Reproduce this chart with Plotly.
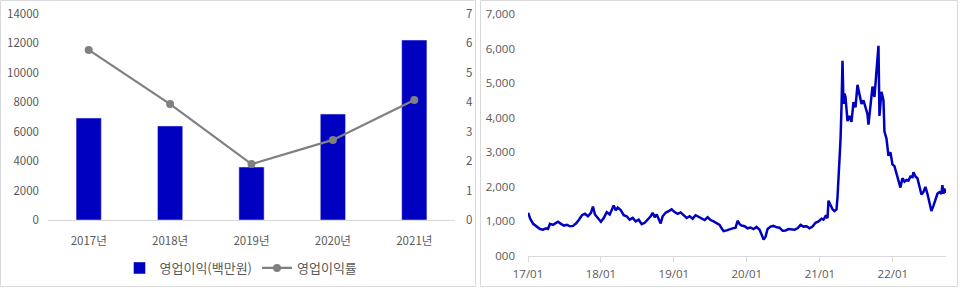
import plotly.graph_objects as go

# ---- Left panel data ----
years = ["2017년", "2018년", "2019년", "2020년", "2021년"]
op_profit = [6930, 6390, 3600, 7200, 12230]        # 영업이익(백만원)
op_margin = [5.78, 3.94, 1.90, 2.72, 4.08]         # 영업이익률

# ---- Right panel data (stock price) ----
price_dates = [
    "2017-01-02", "2017-01-12", "2017-01-27", "2017-02-10", "2017-03-02", "2017-03-17", "2017-04-01",
    "2017-04-11", "2017-04-21", "2017-05-06", "2017-05-21", "2017-05-31", "2017-06-15", "2017-06-30",
    "2017-07-15", "2017-07-30", "2017-08-14", "2017-08-29", "2017-09-13", "2017-09-28", "2017-10-13",
    "2017-10-28", "2017-11-12", "2017-11-22", "2017-12-02", "2017-12-17", "2018-01-01", "2018-01-15",
    "2018-01-30", "2018-02-14", "2018-02-24", "2018-03-06", "2018-03-16", "2018-03-26", "2018-04-10",
    "2018-04-25", "2018-05-10", "2018-05-25", "2018-06-09", "2018-06-24", "2018-07-09", "2018-07-24",
    "2018-08-08", "2018-08-23", "2018-09-07", "2018-09-17", "2018-09-27", "2018-10-07", "2018-10-17",
    "2018-10-27", "2018-11-06", "2018-11-21", "2018-12-06", "2018-12-21", "2019-01-05", "2019-01-20",
    "2019-02-04", "2019-02-19", "2019-03-06", "2019-03-21", "2019-04-05", "2019-04-20", "2019-05-05",
    "2019-05-20", "2019-06-04", "2019-06-19", "2019-07-04", "2019-07-19", "2019-08-03", "2019-08-18",
    "2019-08-28", "2019-09-07", "2019-09-22", "2019-10-07", "2019-10-22", "2019-11-06", "2019-11-16",
    "2019-11-26", "2019-12-06", "2019-12-21", "2020-01-05", "2020-01-20", "2020-02-04", "2020-02-19",
    "2020-03-05", "2020-03-15", "2020-03-25", "2020-04-04", "2020-04-14", "2020-04-29", "2020-05-14",
    "2020-05-29", "2020-06-13", "2020-06-28", "2020-07-13", "2020-07-28", "2020-08-12", "2020-08-27",
    "2020-09-11", "2020-09-26", "2020-10-11", "2020-10-26", "2020-11-10", "2020-11-25", "2020-12-10",
    "2020-12-25", "2021-01-09", "2021-01-19", "2021-01-29", "2021-02-08", "2021-02-13", "2021-02-23",
    "2021-03-05", "2021-03-15", "2021-03-25", "2021-03-30", "2021-04-04", "2021-04-09", "2021-04-14",
    "2021-04-19", "2021-04-24", "2021-04-29", "2021-05-04", "2021-05-09", "2021-05-14", "2021-05-19",
    "2021-05-29", "2021-06-08", "2021-06-18", "2021-06-28", "2021-07-08", "2021-07-18", "2021-07-28",
    "2021-08-07", "2021-08-17", "2021-08-27", "2021-09-01", "2021-09-11", "2021-09-21", "2021-10-01",
    "2021-10-11", "2021-10-21", "2021-10-26", "2021-11-05", "2021-11-15", "2021-11-20", "2021-11-30",
    "2021-12-10", "2021-12-20", "2021-12-30", "2022-01-09", "2022-01-19", "2022-01-29", "2022-02-08",
    "2022-02-18", "2022-02-28", "2022-03-10", "2022-03-20", "2022-03-30", "2022-04-09", "2022-04-14",
    "2022-04-24", "2022-05-04", "2022-05-14", "2022-05-24", "2022-06-03", "2022-06-13", "2022-06-23",
    "2022-07-03", "2022-07-13", "2022-07-23", "2022-08-02", "2022-08-12", "2022-08-22", "2022-09-01",
    "2022-09-06", "2022-09-11", "2022-09-16", "2022-09-21",
]
price_values = [
    1250, 1080, 930, 860, 780, 760, 800,
    780, 930, 900, 960, 990, 930, 880,
    900, 860, 870, 940, 1050, 1180, 1220,
    1150, 1250, 1430, 1200, 1080, 990, 1100,
    1270, 1200, 1350, 1460, 1320, 1400, 1330,
    1180, 1150, 1050, 1100, 1000, 1050, 920,
    960, 1050, 1150, 1250, 1120, 1200, 1050,
    940, 1150, 1250, 1300, 1350, 1270, 1220,
    1260, 1180, 1100, 1150, 1080, 1180, 1130,
    1080, 1040, 1120, 1040, 1000, 960, 900,
    800, 720, 740, 780, 800, 820, 1020,
    920, 880, 860, 800, 820, 780, 840,
    760, 620, 480, 560, 780, 850, 870,
    830, 820, 730, 740, 780, 770, 760,
    800, 900, 850, 860, 800, 850, 960,
    1000, 1080, 1050, 1150, 1100, 1600, 1450,
    1350, 1300, 1350, 1700, 2200, 3000, 3350,
    4300, 5650, 4400, 4700, 4600, 4100, 3900,
    4050, 3880, 4450, 4300, 4950, 4700, 4400,
    4500, 4300, 4100, 3800, 4300, 4900, 4600,
    5500, 6080, 4050, 4750, 4500, 3600, 3400,
    2900, 3000, 2650, 2600, 2400, 2200, 1980,
    2250, 2150, 2200, 2180, 2300, 2280, 2420,
    2300, 2250, 2000, 1780, 1850, 2000, 1800,
    1550, 1300, 1450, 1600, 1800, 1850, 1800,
    2050, 1800, 1950, 1820,
]
price_ticks = [0, 1000, 2000, 3000, 4000, 5000, 6000, 7000]
price_ticktext = ["000", "1,000", "2,000", "3,000", "4,000", "5,000", "6,000", "7,000"]

W, H = 960, 288
def px(x):
    return x / W
def py(y):
    return (H - y) / H

KFONT = "Noto Sans CJK KR, Malgun Gothic, sans-serif"
TICKC = "#595959"
AXC = "#d9d9d9"
BLUE = "#0000C0"

fig = go.Figure()

fig.add_trace(go.Bar(
    x=years, y=op_profit, name="영업이익(백만원)", marker_color=BLUE,
    width=0.31, xaxis="x", yaxis="y",
))
fig.add_trace(go.Scatter(
    x=years, y=op_margin, name="영업이익률", mode="lines+markers",
    line=dict(color="#808080", width=2.25), marker=dict(color="#808080", size=8),
    xaxis="x", yaxis="y2",
))
fig.add_trace(go.Scatter(
    x=price_dates, y=price_values, mode="lines", showlegend=False,
    line=dict(color=BLUE, width=2.5), xaxis="x3", yaxis="y3",
))

fig.update_layout(
    width=W, height=H,
    margin=dict(l=0, r=0, t=0, b=0, autoexpand=False),
    paper_bgcolor="white", plot_bgcolor="white",
    font=dict(family=KFONT, size=11, color=TICKC),
    xaxis=dict(
        domain=[px(48), px(455)], anchor="y", type="category", automargin=False,
        range=[-0.5, 4.5], showgrid=False, showline=True, linecolor=AXC, linewidth=1,
        ticks="", ticklabelstandoff=10, tickfont=dict(family=KFONT, size=11.5, color=TICKC),
        fixedrange=True,
    ),
    yaxis=dict(
        domain=[py(220), py(14)], anchor="x", range=[0, 14000], dtick=2000, tickformat="d",
        showgrid=False, showline=False, zeroline=False, ticks="", automargin=False,
        ticklabelstandoff=8, tickfont=dict(family=KFONT, size=11.5, color=TICKC),
    ),
    yaxis2=dict(
        overlaying="y", side="right", anchor="x", range=[0, 7], dtick=1, automargin=False,
        showgrid=False, showline=False, zeroline=False, ticks="",
        ticklabelstandoff=10, tickfont=dict(family=KFONT, size=11.5, color=TICKC),
    ),
    xaxis3=dict(
        domain=[px(528), px(946)], anchor="y3", type="date", automargin=False,
        range=["2017-01-01", "2022-09-24"], tick0="2017-01-01", dtick="M12",
        tickformat="%y/%m", showgrid=False, showline=True, linecolor=AXC, linewidth=1,
        ticks="outside", ticklen=5, tickcolor=AXC, ticklabelstandoff=2,
        tickfont=dict(family="Open Sans, sans-serif", size=11.5, color=TICKC),
    ),
    yaxis3=dict(
        domain=[py(256), py(14)], anchor="x3", range=[0, 7000], automargin=False,
        tickvals=price_ticks, ticktext=price_ticktext,
        showgrid=False, showline=False, zeroline=False, ticks="",
        ticklabelstandoff=12, tickfont=dict(family="Open Sans, sans-serif", size=11.5, color=TICKC),
    ),
    legend=dict(
        orientation="h", x=px(241), xanchor="center", y=py(268), yanchor="middle",
        font=dict(family=KFONT, size=13, color=TICKC), bgcolor="rgba(0,0,0,0)",
        itemwidth=30, tracegroupgap=0,
    ),
    bargap=0.69,
    shapes=[
        dict(type="rect", xref="paper", yref="paper", x0=px(0.5), x1=px(475.5), y0=py(286.5), y1=py(0.5),
             line=dict(color=AXC, width=1), fillcolor="rgba(0,0,0,0)", layer="below"),
        dict(type="rect", xref="paper", yref="paper", x0=px(480.5), x1=px(957.5), y0=py(286.5), y1=py(0.5),
             line=dict(color=AXC, width=1), fillcolor="rgba(0,0,0,0)", layer="below"),
    ],
)

fig.write_html("out.html")
